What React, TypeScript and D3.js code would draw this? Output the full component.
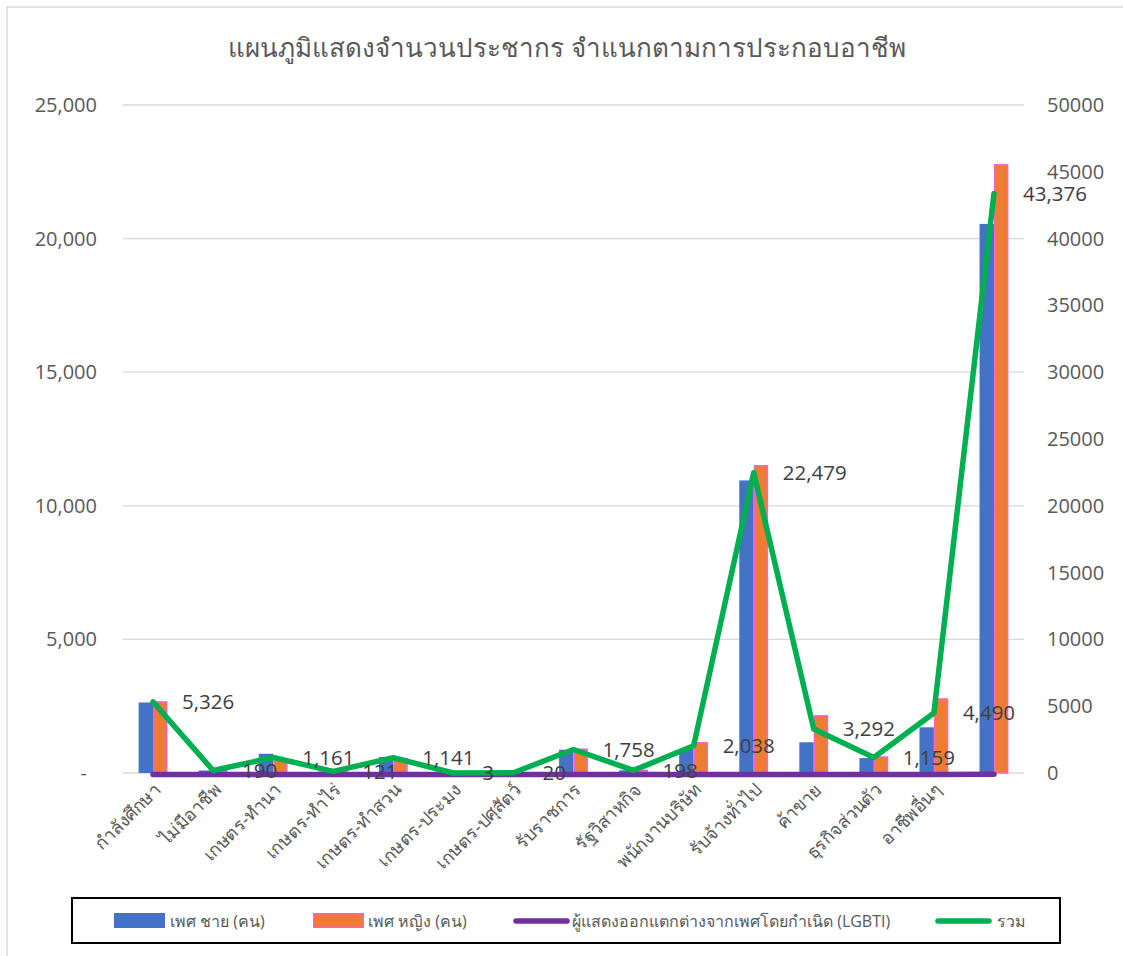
import React from "react";
import * as d3 from "d3";

const categories = [
  "กำลังศึกษา",
  "ไม่มีอาชีพ",
  "เกษตร-ทำนา",
  "เกษตร-ทำไร่",
  "เกษตร-ทำสวน",
  "เกษตร-ประมง",
  "เกษตร-ปศุสัตว์",
  "รับราชการ",
  "รัฐวิสาหกิจ",
  "พนักงานบริษัท",
  "รับจ้างทั่วไป",
  "ค้าขาย",
  "ธุรกิจส่วนตัว",
  "อาชีพอื่นๆ",
  "",
];
const male = [2640, 95, 720, 60, 600, 2, 10, 870, 100, 900, 10950, 1150, 560, 1710, 20550];
const female = [2660, 95, 440, 60, 540, 1, 10, 888, 98, 1130, 11500, 2140, 598, 2770, 22760];
const lgbti = [2, 0, 1, 1, 1, 0, 0, 0, 0, 1, 3, 1, 1, 1, 12];
const total = [5326, 190, 1161, 121, 1141, 3, 20, 1758, 198, 2038, 22479, 3292, 1159, 4490, 43376];
const leftTicks = [0, 5000, 10000, 15000, 20000, 25000];
const rightTicks = [0, 5000, 10000, 15000, 20000, 25000, 30000, 35000, 40000, 45000, 50000];

const title = "แผนภูมิแสดงจำนวนประชากร จำแนกตามการประกอบอาชีพ";
const legendLabels = ["เพศ  ชาย (คน)", "เพศ  หญิง (คน)", "ผู้แสดงออกแตกต่างจากเพศโดยกำเนิด (LGBTI)", "รวม"];

const FONT = "'Open Sans', 'Noto Sans', sans-serif";

export default function App() {
  const W = 1123, H = 956;
  const x = d3.scaleBand<number>().domain(d3.range(categories.length)).range([123, 1024]).padding(0);
  const yL = d3.scaleLinear().domain([0, 25000]).range([773, 105]);
  const yR = d3.scaleLinear().domain([0, 50000]).range([773, 105]);
  const bw = x.bandwidth() * 0.24;
  const cx = (i: number) => (x(i) as number) + x.bandwidth() / 2;
  const fmt = d3.format(",");

  const lineL = d3.line<number>().x((_, i) => cx(i)).y((d) => yL(d) + 1.5);
  const lineR = d3.line<number>().x((_, i) => cx(i)).y((d) => yR(d));

  return (
    <svg width={W} height={H} style={{ position: "absolute", left: 0, top: 0, background: "#fff" }} fontFamily={FONT}>
      <rect x={7} y={7} width={W} height={H} fill="#fff" stroke="#d9d9d9" strokeWidth={1.5} />
      <text x={567} y={57} textAnchor="middle" fontSize={26} fontWeight={500} fill="#595959">{title}</text>

      {leftTicks.map((t) => (
        <line key={"g" + t} x1={123} x2={1024} y1={yL(t)} y2={yL(t)} stroke="#d9d9d9" strokeWidth={1.3} />
      ))}
      {leftTicks.map((t) => (
        <text key={"l" + t} x={t === 0 ? 87 : 97} y={yL(t)} dy="0.35em" textAnchor="end" fontSize={20} fill="#595959">
          {t === 0 ? "-" : fmt(t)}
        </text>
      ))}
      {rightTicks.map((t) => (
        <text key={"r" + t} x={1047} y={yR(t)} dy="0.35em" textAnchor="start" fontSize={20} fill="#595959">
          {String(t)}
        </text>
      ))}

      {male.map((v, i) => (
        <rect key={"m" + i} x={cx(i) - bw} y={yL(v)} width={bw} height={yL(0) - yL(v)} fill="#4472c4" />
      ))}
      {female.map((v, i) => (
        <rect key={"f" + i} x={cx(i) + 0.75} y={yL(v)} width={bw - 1.5} height={yL(0) - yL(v)} fill="#ed7d31" stroke="#ff5fcf" strokeWidth={1.5} />
      ))}

      <path d={lineL(lgbti) || ""} fill="none" stroke="#7030a0" strokeWidth={5.5} strokeLinecap="round" strokeLinejoin="round" />
      <path d={lineR(total) || ""} fill="none" stroke="#00b050" strokeWidth={5.5} strokeLinecap="round" strokeLinejoin="round" />

      {total.map((v, i) => (
        <text key={"t" + i} x={cx(i) + 29} y={yR(v)} dy="0.35em" fontSize={20.5} fill="#404040">{fmt(v)}</text>
      ))}

      {categories.map((c, i) => (
        <text key={"c" + i} transform={`translate(${cx(i) + 9},${791}) rotate(-45)`} textAnchor="end" fontSize={18} fill="#595959">
          {c}
        </text>
      ))}

      <rect x={72} y={898} width={988} height={45} fill="none" stroke="#000" strokeWidth={2} />
      <rect x={114} y={913} width={51} height={15} fill="#4472c4" />
      <text x={170} y={921} dy="0.35em" fontSize={16} fill="#595959">{legendLabels[0]}</text>
      <rect x={313.75} y={913.75} width={49.5} height={13.5} fill="#ed7d31" stroke="#ff5fcf" strokeWidth={1.5} />
      <text x={368} y={921} dy="0.35em" fontSize={16} fill="#595959">{legendLabels[1]}</text>
      <line x1={516} x2={567} y1={921} y2={921} stroke="#7030a0" strokeWidth={5.5} strokeLinecap="round" />
      <text x={572} y={921} dy="0.35em" fontSize={16} fill="#595959">{legendLabels[2]}</text>
      <line x1={938} x2={989} y1={921} y2={921} stroke="#00b050" strokeWidth={5.5} strokeLinecap="round" />
      <text x={997} y={921} dy="0.35em" fontSize={16} fill="#595959">{legendLabels[3]}</text>
    </svg>
  );
}
